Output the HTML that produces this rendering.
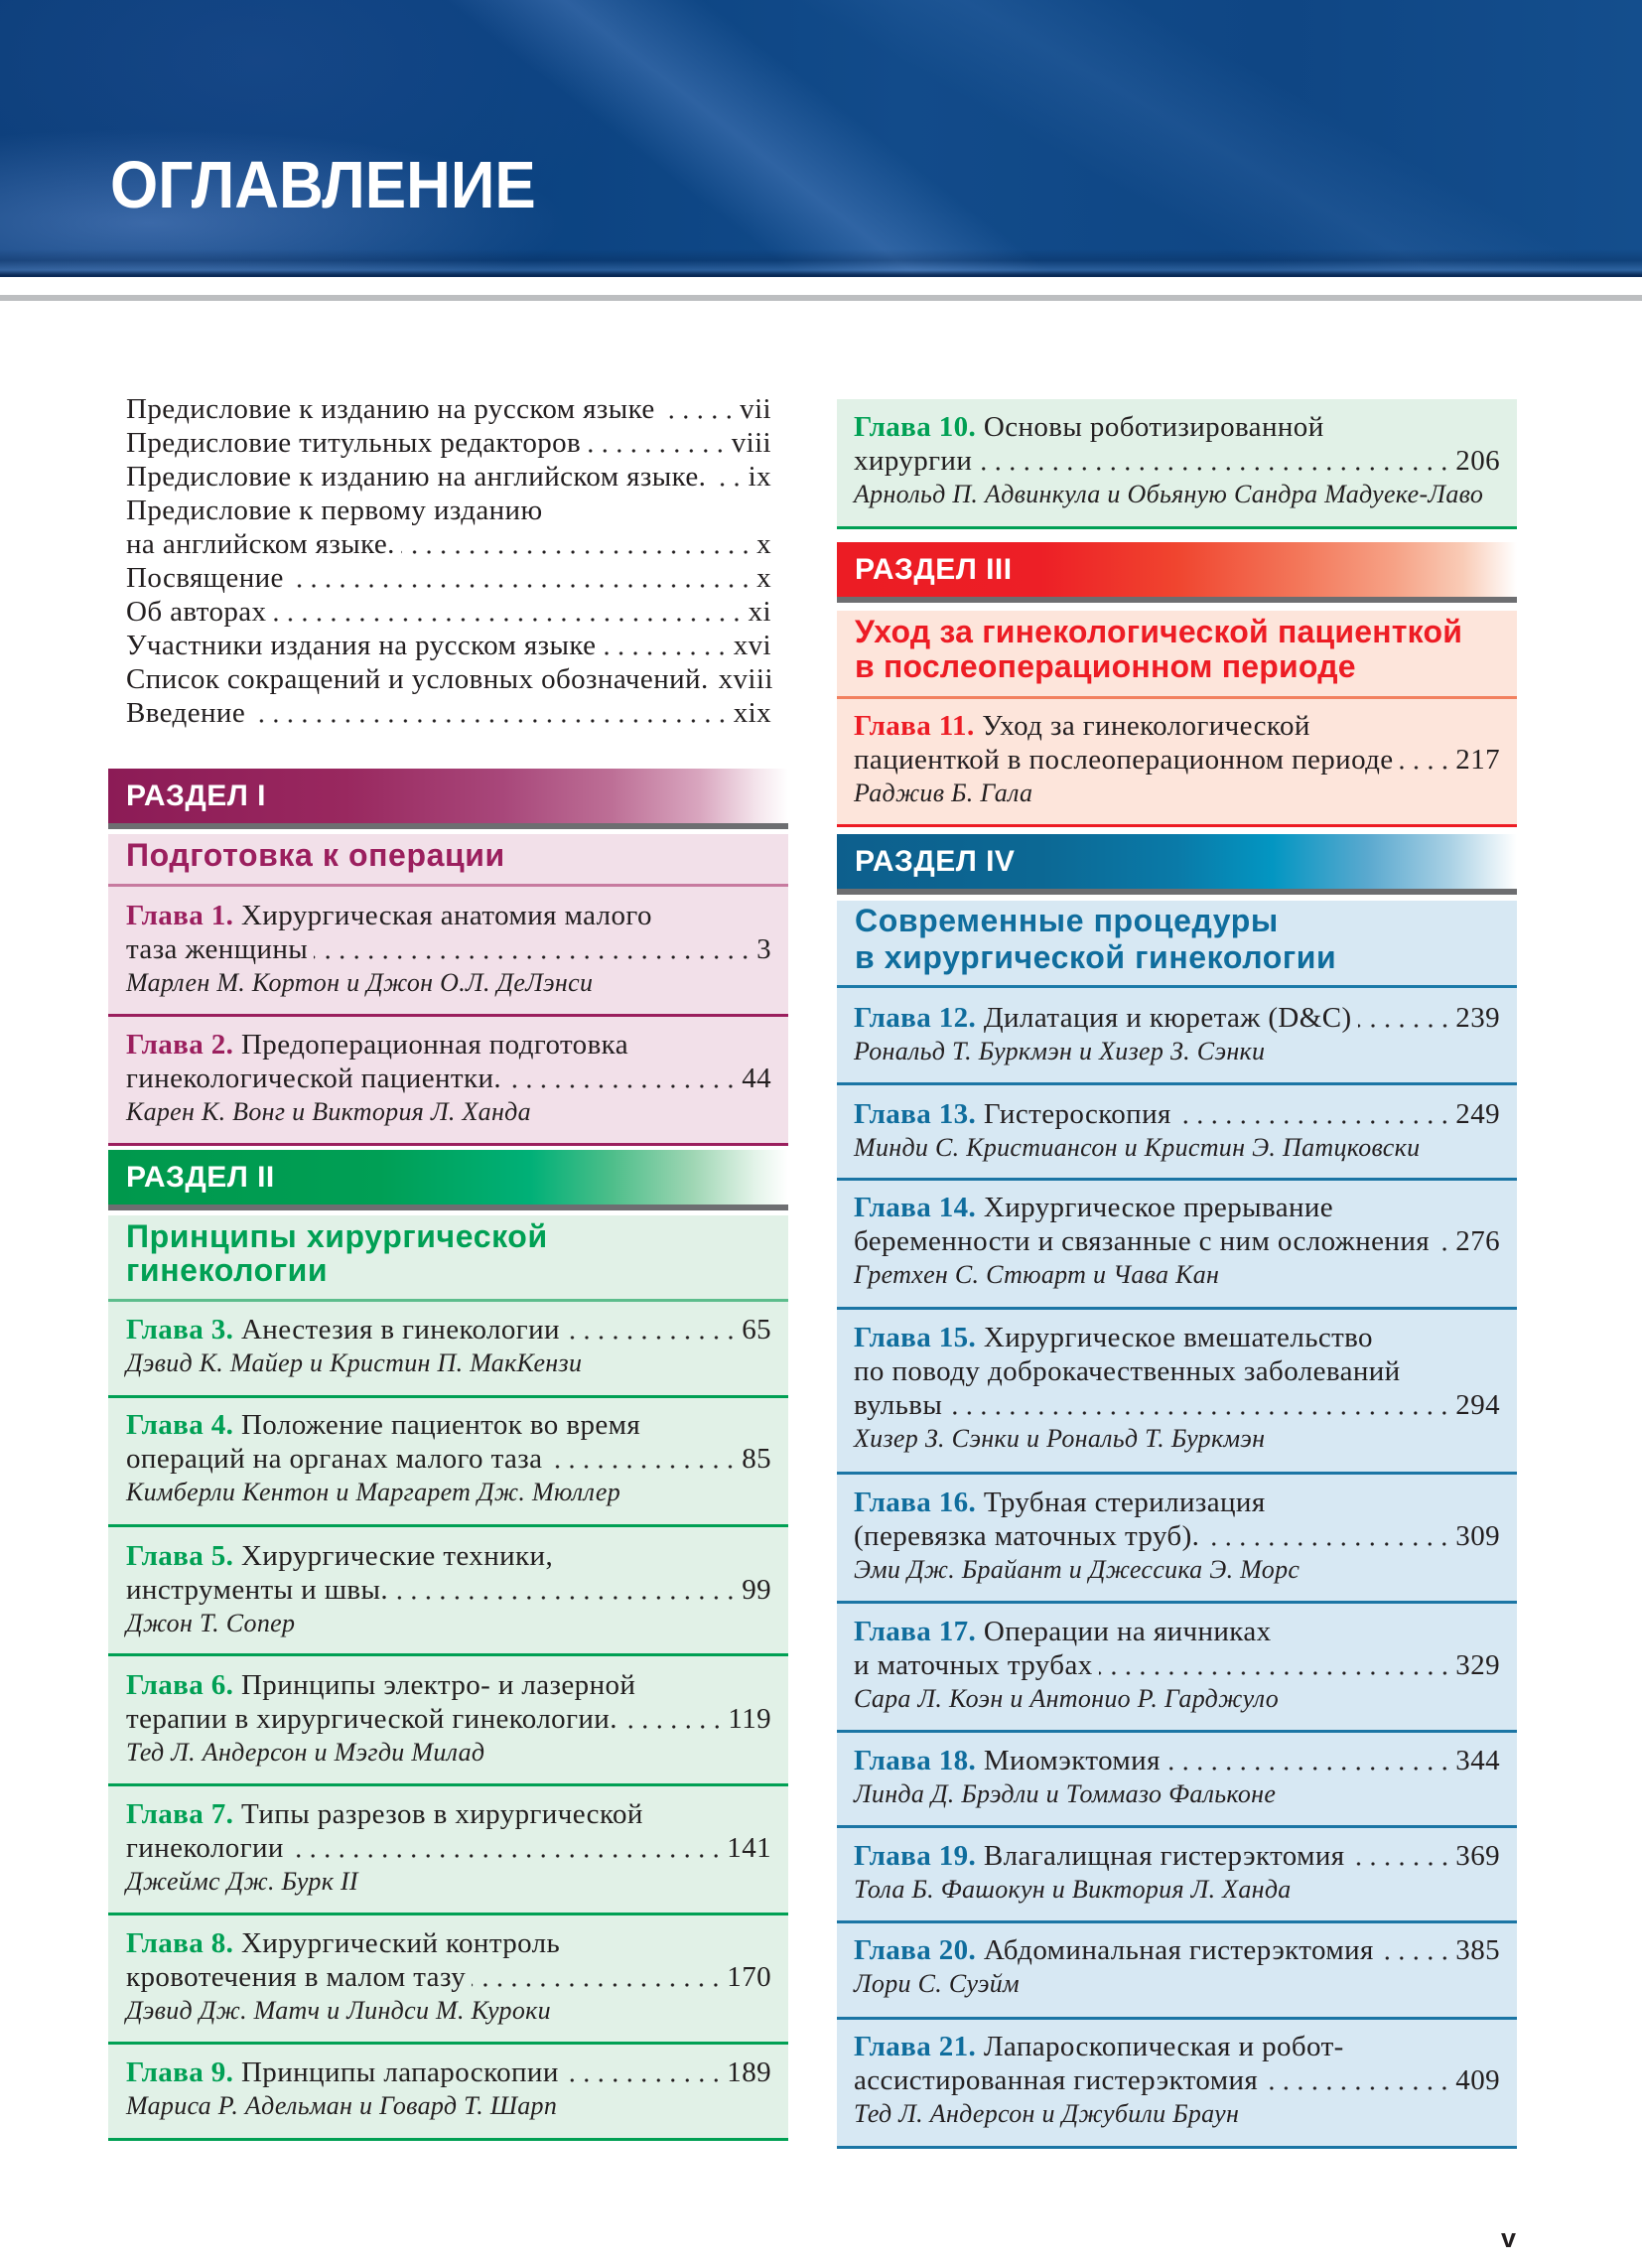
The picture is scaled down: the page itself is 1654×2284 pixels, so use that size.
<!DOCTYPE html>
<html><head><meta charset="utf-8">
<style>
*{box-sizing:border-box}
body{margin:0;background:#fff}
#pg{position:relative;width:1654px;height:2284px;overflow:hidden;background:#fff;font-family:"Liberation Serif","Noto Serif CJK SC",serif;color:#231f20}
.hdr{position:absolute;left:0;top:0;width:1654px;height:279px;background:
 linear-gradient(180deg,rgba(0,0,0,0) 90%,rgba(4,28,66,.25) 94%,rgba(120,160,215,.25) 97.5%,rgba(8,36,78,.85) 99.3%),
 linear-gradient(38deg,rgba(255,255,255,0) 40%,rgba(110,155,220,.33) 46%,rgba(255,255,255,0) 53%),
 linear-gradient(30deg,rgba(255,255,255,0) 60%,rgba(100,150,215,.14) 68%,rgba(255,255,255,0) 76%),
 radial-gradient(ellipse 420px 95px at 150px 225px,rgba(105,145,210,.50),rgba(0,0,0,0)),
 radial-gradient(ellipse 380px 200px at 260px 60px,rgba(40,80,150,.35),rgba(0,0,0,0)),
 linear-gradient(90deg,#0c3f7b 0%,#0b4280 30%,#124b8a 55%,#0f4684 78%,#144e8d 100%)}
.ttl{position:absolute;left:111px;top:153px;font:bold 67px/67px "Liberation Sans",sans-serif;color:#fff;transform-origin:0 0;transform:scaleX(.925);white-space:nowrap}
.gry{position:absolute;left:0;top:297px;width:1654px;height:6px;background:#bcbec0}
.box{position:absolute}
.bar{position:absolute;height:55px;width:685px}
.bar:after{content:"";position:absolute;left:0;top:55px;width:685px;height:6px;background:#6d6e71}
.bl{position:absolute;left:18px;top:13px;font:bold 30px/30px "Liberation Sans",sans-serif;color:#fff;letter-spacing:.5px;white-space:nowrap}
.tt{position:absolute;font:bold 32px/35px "Liberation Sans",sans-serif;letter-spacing:.6px;white-space:nowrap}
.dv{position:absolute;height:3px;width:685px}
.Lx{left:109px}.Rx{left:843px}
.c{position:absolute}
.L{left:127px;width:650px}
.R{left:860px;width:651px}
.c>div{height:34px;line-height:34px;font-size:29px;white-space:nowrap;letter-spacing:.4px}
.c>.f{display:flex}
.c>.a{font-style:italic;font-size:26px;letter-spacing:.3px}
.d{flex:1;margin:0 4px 0 6px;background:radial-gradient(circle,#231f20 1.3px,rgba(0,0,0,0) 1.9px) right 0 top 22px/14.5px 6px repeat-x}
.mg{color:#9b1f5e}.gr{color:#00a054}.rd{color:#ed1c24}.bu{color:#0f6d9d}
b{font-weight:bold}
.pn{position:absolute;left:1512px;top:2241px;font:bold 27px/27px "Liberation Sans",sans-serif;color:#231f20}
</style></head><body><div id="pg">

<div class="hdr"></div>
<div class="ttl">ОГЛАВЛЕНИЕ</div>
<div class="gry"></div>

<!-- intro -->
<div class="c L" style="top:395px">
<div class="f"><span>Предисловие к изданию на русском языке</span><i class="d"></i><span>vii</span></div>
<div class="f"><span>Предисловие титульных редакторов</span><i class="d"></i><span>viii</span></div>
<div class="f"><span>Предисловие к изданию на английском языке.</span><i class="d"></i><span>ix</span></div>
<div>Предисловие к первому изданию</div>
<div class="f"><span>на английском языке.</span><i class="d"></i><span>x</span></div>
<div class="f"><span>Посвящение</span><i class="d"></i><span>x</span></div>
<div class="f"><span>Об авторах</span><i class="d"></i><span>xi</span></div>
<div class="f"><span>Участники издания на русском языке</span><i class="d"></i><span>xvi</span></div>
<div class="f"><span>Список сокращений и условных обозначений.</span><i class="d"></i><span>xviii</span></div>
<div class="f"><span>Введение</span><i class="d"></i><span>xix</span></div>
</div>

<!-- ===== SECTION I ===== -->
<div class="bar Lx" style="top:774px;background:linear-gradient(90deg,#8c1b56 0%,#99285f 35%,#a8477a 58%,#bd6f96 74%,#d9a6bf 87%,#f3e2ea 95%,#fff 100%)"><span class="bl">РАЗДЕЛ I</span></div>
<div class="box Lx" style="top:840px;width:685px;height:314px;background:#f2e0e9"></div>
<div class="tt mg" style="left:127px;top:844px">Подготовка к операции</div>
<div class="dv Lx" style="top:890px;background:#c77a9f"></div>

<div class="c L" style="top:905px">
<div><b class="mg">Глава 1.</b> Хирургическая анатомия малого</div>
<div class="f"><span>таза женщины</span><i class="d"></i><span>3</span></div>
<div class="a">Марлен М. Кортон и Джон О.Л. ДеЛэнси</div>
</div>
<div class="dv Lx" style="top:1021px;background:#9b1f5e"></div>

<div class="c L" style="top:1035px">
<div><b class="mg">Глава 2.</b> Предоперационная подготовка</div>
<div class="f"><span>гинекологической пациентки.</span><i class="d"></i><span>44</span></div>
<div class="a">Карен К. Вонг и Виктория Л. Ханда</div>
</div>
<div class="dv Lx" style="top:1151px;background:#9b1f5e"></div>

<!-- ===== SECTION II ===== -->
<div class="bar Lx" style="top:1158px;background:linear-gradient(90deg,#00984c 0%,#009f55 40%,#00b077 62%,#4dbe8a 74%,#9fd6b4 86%,#e2f3e8 95%,#fff 100%)"><span class="bl">РАЗДЕЛ II</span></div>
<div class="box Lx" style="top:1224px;width:685px;height:932px;background:#e1f1e7"></div>
<div class="tt gr" style="left:127px;top:1228px">Принципы хирургической</div>
<div class="tt gr" style="left:127px;top:1262px">гинекологии</div>
<div class="dv Lx" style="top:1308px;background:#5cbd8c"></div>

<div class="c L" style="top:1322px">
<div class="f"><span><b class="gr">Глава 3.</b> Анестезия в гинекологии</span><i class="d"></i><span>65</span></div>
<div class="a">Дэвид К. Майер и Кристин П. МакКензи</div>
</div>
<div class="dv Lx" style="top:1405px;background:#00a054"></div>

<div class="c L" style="top:1418px">
<div><b class="gr">Глава 4.</b> Положение пациенток во время</div>
<div class="f"><span>операций на органах малого таза</span><i class="d"></i><span>85</span></div>
<div class="a">Кимберли Кентон и Маргарет Дж. Мюллер</div>
</div>
<div class="dv Lx" style="top:1535px;background:#00a054"></div>

<div class="c L" style="top:1550px">
<div><b class="gr">Глава 5.</b> Хирургические техники,</div>
<div class="f"><span>инструменты и швы.</span><i class="d"></i><span>99</span></div>
<div class="a">Джон Т. Сопер</div>
</div>
<div class="dv Lx" style="top:1665px;background:#00a054"></div>

<div class="c L" style="top:1680px">
<div><b class="gr">Глава 6.</b> Принципы электро- и лазерной</div>
<div class="f"><span>терапии в хирургической гинекологии.</span><i class="d"></i><span>119</span></div>
<div class="a">Тед Л. Андерсон и Мэгди Милад</div>
</div>
<div class="dv Lx" style="top:1796px;background:#00a054"></div>

<div class="c L" style="top:1810px">
<div><b class="gr">Глава 7.</b> Типы разрезов в хирургической</div>
<div class="f"><span>гинекологии</span><i class="d"></i><span>141</span></div>
<div class="a">Джеймс Дж. Бурк II</div>
</div>
<div class="dv Lx" style="top:1926px;background:#00a054"></div>

<div class="c L" style="top:1940px">
<div><b class="gr">Глава 8.</b> Хирургический контроль</div>
<div class="f"><span>кровотечения в малом тазу</span><i class="d"></i><span>170</span></div>
<div class="a">Дэвид Дж. Матч и Линдси М. Куроки</div>
</div>
<div class="dv Lx" style="top:2056px;background:#00a054"></div>

<div class="c L" style="top:2070px">
<div class="f"><span><b class="gr">Глава 9.</b> Принципы лапароскопии</span><i class="d"></i><span>189</span></div>
<div class="a">Мариса Р. Адельман и Говард Т. Шарп</div>
</div>
<div class="dv Lx" style="top:2153px;background:#00a054"></div>

<!-- ===== RIGHT: Ch10 ===== -->
<div class="box Rx" style="top:402px;width:685px;height:131px;background:#e1f1e7"></div>
<div class="c R" style="top:413px">
<div><b class="gr">Глава 10.</b> Основы роботизированной</div>
<div class="f"><span>хирургии</span><i class="d"></i><span>206</span></div>
<div class="a">Арнольд П. Адвинкула и Обьяную Сандра Мадуеке-Лаво</div>
</div>
<div class="dv Rx" style="top:530px;background:#00a054"></div>

<!-- ===== SECTION III ===== -->
<div class="bar Rx" style="top:546px;background:linear-gradient(90deg,#ec1c24 0%,#ed1f26 30%,#f0452f 50%,#f3775a 68%,#f6a286 82%,#f9cbb6 92%,#fff 100%)"><span class="bl">РАЗДЕЛ III</span></div>
<div class="box Rx" style="top:615px;width:685px;height:218px;background:#fde5db"></div>
<div class="tt rd" style="left:861px;top:619px;letter-spacing:.2px">Уход за гинекологической пациенткой</div>
<div class="tt rd" style="left:861px;top:654px;letter-spacing:.2px">в послеоперационном периоде</div>
<div class="dv Rx" style="top:701px;background:#f2805f"></div>

<div class="c R" style="top:714px">
<div><b class="rd">Глава 11.</b> Уход за гинекологической</div>
<div class="f"><span>пациенткой в послеоперационном периоде</span><i class="d"></i><span>217</span></div>
<div class="a">Раджив Б. Гала</div>
</div>
<div class="dv Rx" style="top:830px;background:#ed1c24"></div>

<!-- ===== SECTION IV ===== -->
<div class="bar Rx" style="top:840px;background:linear-gradient(90deg,#0d5f8d 0%,#0c6894 30%,#0a7aa8 50%,#0396c2 64%,#5aa9cf 78%,#a8d0e4 90%,#fff 100%)"><span class="bl">РАЗДЕЛ IV</span></div>
<div class="box Rx" style="top:907px;width:685px;height:1257px;background:#d7e8f3"></div>
<div class="tt bu" style="left:861px;top:910px">Современные процедуры</div>
<div class="tt bu" style="left:861px;top:947px">в хирургической гинекологии</div>
<div class="dv Rx" style="top:992px;background:#1b7aa8"></div>

<div class="c R" style="top:1008px">
<div class="f"><span><b class="bu">Глава 12.</b> Дилатация и кюретаж (D&amp;C)</span><i class="d"></i><span>239</span></div>
<div class="a">Рональд Т. Буркмэн и Хизер З. Сэнки</div>
</div>
<div class="dv Rx" style="top:1090px;background:#1b75a4"></div>

<div class="c R" style="top:1105px">
<div class="f"><span><b class="bu">Глава 13.</b> Гистероскопия</span><i class="d"></i><span>249</span></div>
<div class="a">Минди С. Кристиансон и Кристин Э. Патцковски</div>
</div>
<div class="dv Rx" style="top:1186px;background:#1b75a4"></div>

<div class="c R" style="top:1199px">
<div><b class="bu">Глава 14.</b> Хирургическое прерывание</div>
<div class="f"><span>беременности и связанные с ним осложнения</span><i class="d"></i><span>276</span></div>
<div class="a">Гретхен С. Стюарт и Чава Кан</div>
</div>
<div class="dv Rx" style="top:1316px;background:#1b75a4"></div>

<div class="c R" style="top:1330px">
<div><b class="bu">Глава 15.</b> Хирургическое вмешательство</div>
<div>по поводу доброкачественных заболеваний</div>
<div class="f"><span>вульвы</span><i class="d"></i><span>294</span></div>
<div class="a">Хизер З. Сэнки и Рональд Т. Буркмэн</div>
</div>
<div class="dv Rx" style="top:1482px;background:#1b75a4"></div>

<div class="c R" style="top:1496px">
<div><b class="bu">Глава 16.</b> Трубная стерилизация</div>
<div class="f"><span>(перевязка маточных труб).</span><i class="d"></i><span>309</span></div>
<div class="a">Эми Дж. Брайант и Джессика Э. Морс</div>
</div>
<div class="dv Rx" style="top:1612px;background:#1b75a4"></div>

<div class="c R" style="top:1626px">
<div><b class="bu">Глава 17.</b> Операции на яичниках</div>
<div class="f"><span>и маточных трубах</span><i class="d"></i><span>329</span></div>
<div class="a">Сара Л. Коэн и Антонио Р. Гарджуло</div>
</div>
<div class="dv Rx" style="top:1742px;background:#1b75a4"></div>

<div class="c R" style="top:1756px">
<div class="f"><span><b class="bu">Глава 18.</b> Миомэктомия</span><i class="d"></i><span>344</span></div>
<div class="a">Линда Д. Брэдли и Томмазо Фальконе</div>
</div>
<div class="dv Rx" style="top:1838px;background:#1b75a4"></div>

<div class="c R" style="top:1852px">
<div class="f"><span><b class="bu">Глава 19.</b> Влагалищная гистерэктомия</span><i class="d"></i><span>369</span></div>
<div class="a">Тола Б. Фашокун и Виктория Л. Ханда</div>
</div>
<div class="dv Rx" style="top:1934px;background:#1b75a4"></div>

<div class="c R" style="top:1947px">
<div class="f"><span><b class="bu">Глава 20.</b> Абдоминальная гистерэктомия</span><i class="d"></i><span>385</span></div>
<div class="a">Лори С. Суэйм</div>
</div>
<div class="dv Rx" style="top:2031px;background:#1b75a4"></div>

<div class="c R" style="top:2044px">
<div><b class="bu">Глава 21.</b> Лапароскопическая и робот-</div>
<div class="f"><span>ассистированная гистерэктомия</span><i class="d"></i><span>409</span></div>
<div class="a">Тед Л. Андерсон и Джубили Браун</div>
</div>
<div class="dv Rx" style="top:2161px;background:#1b75a4"></div>

<div class="pn">v</div>
</div></body></html>
